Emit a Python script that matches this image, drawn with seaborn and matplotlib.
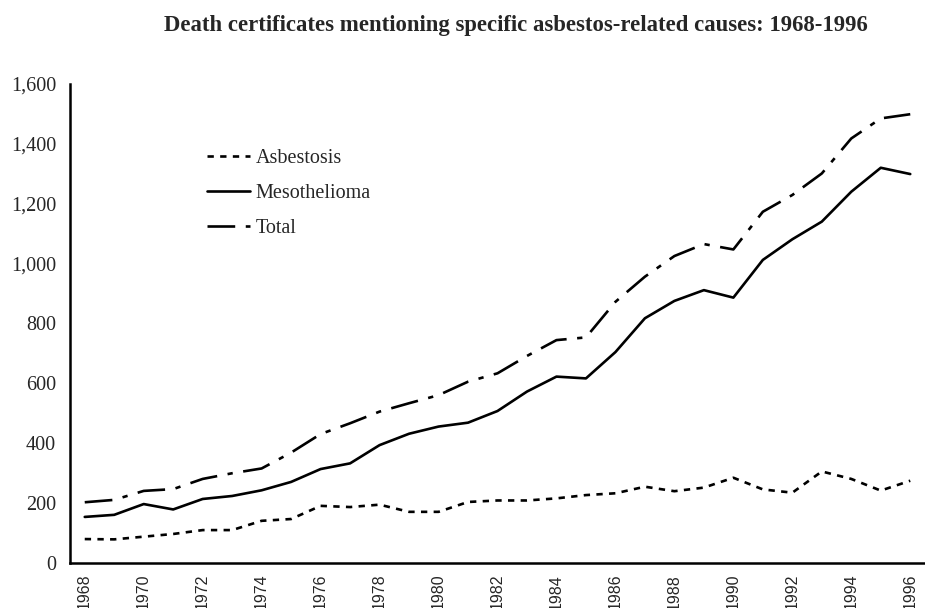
import numpy as np
import pandas as pd
import matplotlib
matplotlib.use("Agg")
import matplotlib.pyplot as plt
import seaborn as sns

# data
years = list(range(1968, 1997))
asbestosis = [79, 78, 87, 96, 109, 109, 140, 146, 190, 186, 194, 170, 170, 203, 208,
              208, 215, 226, 232, 254, 239, 251, 284, 245, 234, 305, 280, 241, 274]
mesothelioma = [153, 160, 196, 178, 213, 223, 242, 270, 313, 332, 393, 431, 455, 468, 507,
                572, 622, 616, 704, 817, 875, 911, 886, 1012, 1081, 1140, 1240, 1320, 1299]
total = [202, 210, 240, 246, 280, 299, 315, 368, 430, 466, 505, 533, 560, 605, 633,
         691, 744, 753, 872, 956, 1025, 1065, 1047, 1173, 1229, 1301, 1418, 1485, 1499]
series_names = ["Asbestosis", "Mesothelioma", "Total"]
title = "Death certificates mentioning specific asbestos-related causes: 1968-1996"

df = pd.DataFrame({
    "idx": list(range(len(years))) * 3,
    "value": asbestosis + mesothelioma + total,
    "series": sum([[n] * len(years) for n in series_names], []),
})

sns.set_style("white")
plt.rcParams["font.family"] = ["Liberation Serif", "DejaVu Serif"]

fig = plt.figure(figsize=(9.25, 6.08), dpi=100)
ax = fig.add_axes([70 / 925, 45.3 / 608, 1 - 70 / 925, 478.7 / 608])

sns.lineplot(data=df, x="idx", y="value", style="series", hue="series",
             palette={n: "black" for n in series_names},
             dashes={"Asbestosis": (2.4, 2.4), "Mesothelioma": "",
                     "Total": (10.5, 4, 2, 4)},
             linewidth=1.9, ax=ax)

ax.set_ylim(0, 1600)
ax.set_xlim(-0.5, 28.34)
ax.set_yticks(range(0, 1601, 200))
ax.set_yticklabels([f"{v:,}" for v in range(0, 1601, 200)], fontsize=14.5)

# ticks at category boundaries, labels on every other year
ax.set_xticks(np.arange(-0.5, len(years), 1))
ax.set_xticklabels([])
ax.set_xticks(range(0, len(years), 2), minor=True)
ax.set_xticklabels([str(y) for y in years[::2]], minor=True, rotation=90,
                   fontsize=11.5, family="Liberation Sans", va="top")
ax.tick_params(axis="x", which="minor", length=0, pad=8)
ax.tick_params(axis="x", which="major", direction="out", length=5, width=1.8)
ax.tick_params(axis="y", direction="out", length=6, width=1.8, pad=4)
ax.set_xlabel("")
ax.set_ylabel("")

for s in ["top", "right"]:
    ax.spines[s].set_visible(False)
for s in ["left", "bottom"]:
    ax.spines[s].set_linewidth(1.8)
    ax.spines[s].set_color("black")

ax.legend(loc="upper left", bbox_to_anchor=(207 / 925, 1 - 149 / 608),
          bbox_transform=fig.transFigure, frameon=False, fontsize=14.5,
          handlelength=2.15, handletextpad=0.25, labelspacing=0.78,
          borderpad=0, borderaxespad=0, title=None)

fig.text(516 / 925, 1 - 26 / 608, title, ha="center", va="center",
         fontsize=16.4, fontweight="bold")

fig.savefig("out.png", dpi=100)
